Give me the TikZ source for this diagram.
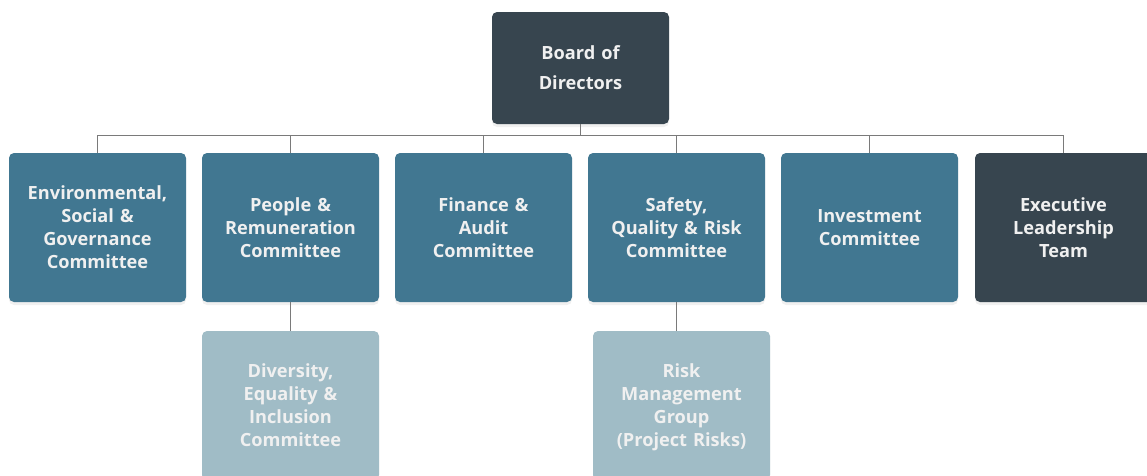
\documentclass[tikz,border=0pt]{standalone}
\usepackage{fontspec}
\setmainfont{Open Sans}
\usepackage{tikz}
\usetikzlibrary{shadows}

\definecolor{boarddark}{HTML}{37454F}
\definecolor{committee}{HTML}{417791}
\definecolor{subgroup}{HTML}{A0BCC6}
\definecolor{linkgray}{HTML}{7A7A7A}

\begin{document}
\begin{tikzpicture}[
      x=1pt, y=-1pt,
      box/.style={rounded corners=5pt,text=white!94!black,align=center,
        minimum width=177pt,minimum height=149pt,text width=165pt,inner sep=0pt,
        font=\fontsize{18.2}{23}\selectfont\bfseries,
        drop shadow={opacity=0.12,shadow xshift=0pt,shadow yshift=-3pt}},
      board box/.style={box,fill=boarddark,minimum height=112pt},
      committee box/.style={box,fill=committee},
      exec box/.style={box,fill=boarddark},
      sub box/.style={box,fill=subgroup},
      org link/.style={draw=linkgray,line width=1pt}
      ]
      \useasboundingbox (0,0) rectangle (1147,475);
      \clip (0,0) rectangle (1147,475);
      % board
      \node [board box] (board) at (580.5,68) {Board of\\[7pt]Directors};
      % committees
      \node [committee box] (esg) at (97.5,227.5) {Environmental,\\Social \&\\Governance\\Committee};
      \node [committee box] (people) at (290.5,227.5) {People \&\\Remuneration\\Committee};
      \node [committee box] (finance) at (483.5,227.5) {Finance \&\\Audit\\Committee};
      \node [committee box] (safety) at (676.5,227.5) {Safety,\\Quality \& Risk\\Committee};
      \node [committee box] (invest) at (869.5,227.5) {Investment\\Committee};
      \node [exec box] (exec) at (1063.5,227.5) {Executive\\Leadership\\Team};
      % sub groups
      \node [sub box] (dei) at (290.5,405.5) {Diversity,\\Equality \&\\Inclusion\\Committee};
      \node [sub box] (risk) at (681.5,405.5) {Risk\\Management\\Group\\\raisebox{0pt}[\height][0pt]{(Project Risks)}};
      % bus
      \coordinate (bus) at (580.5,135);
      \draw [org link] (board.south) -- (bus);
      \foreach \n in {esg,people,finance,safety,invest,exec} {
          \draw [org link] (\n.north) |- (bus);
      }
      % sub links
      \draw [org link] (people.south) -- (people.south |- dei.north);
      \draw [org link] (safety.south) -- (safety.south |- risk.north);
    \end{tikzpicture}
\end{document}
